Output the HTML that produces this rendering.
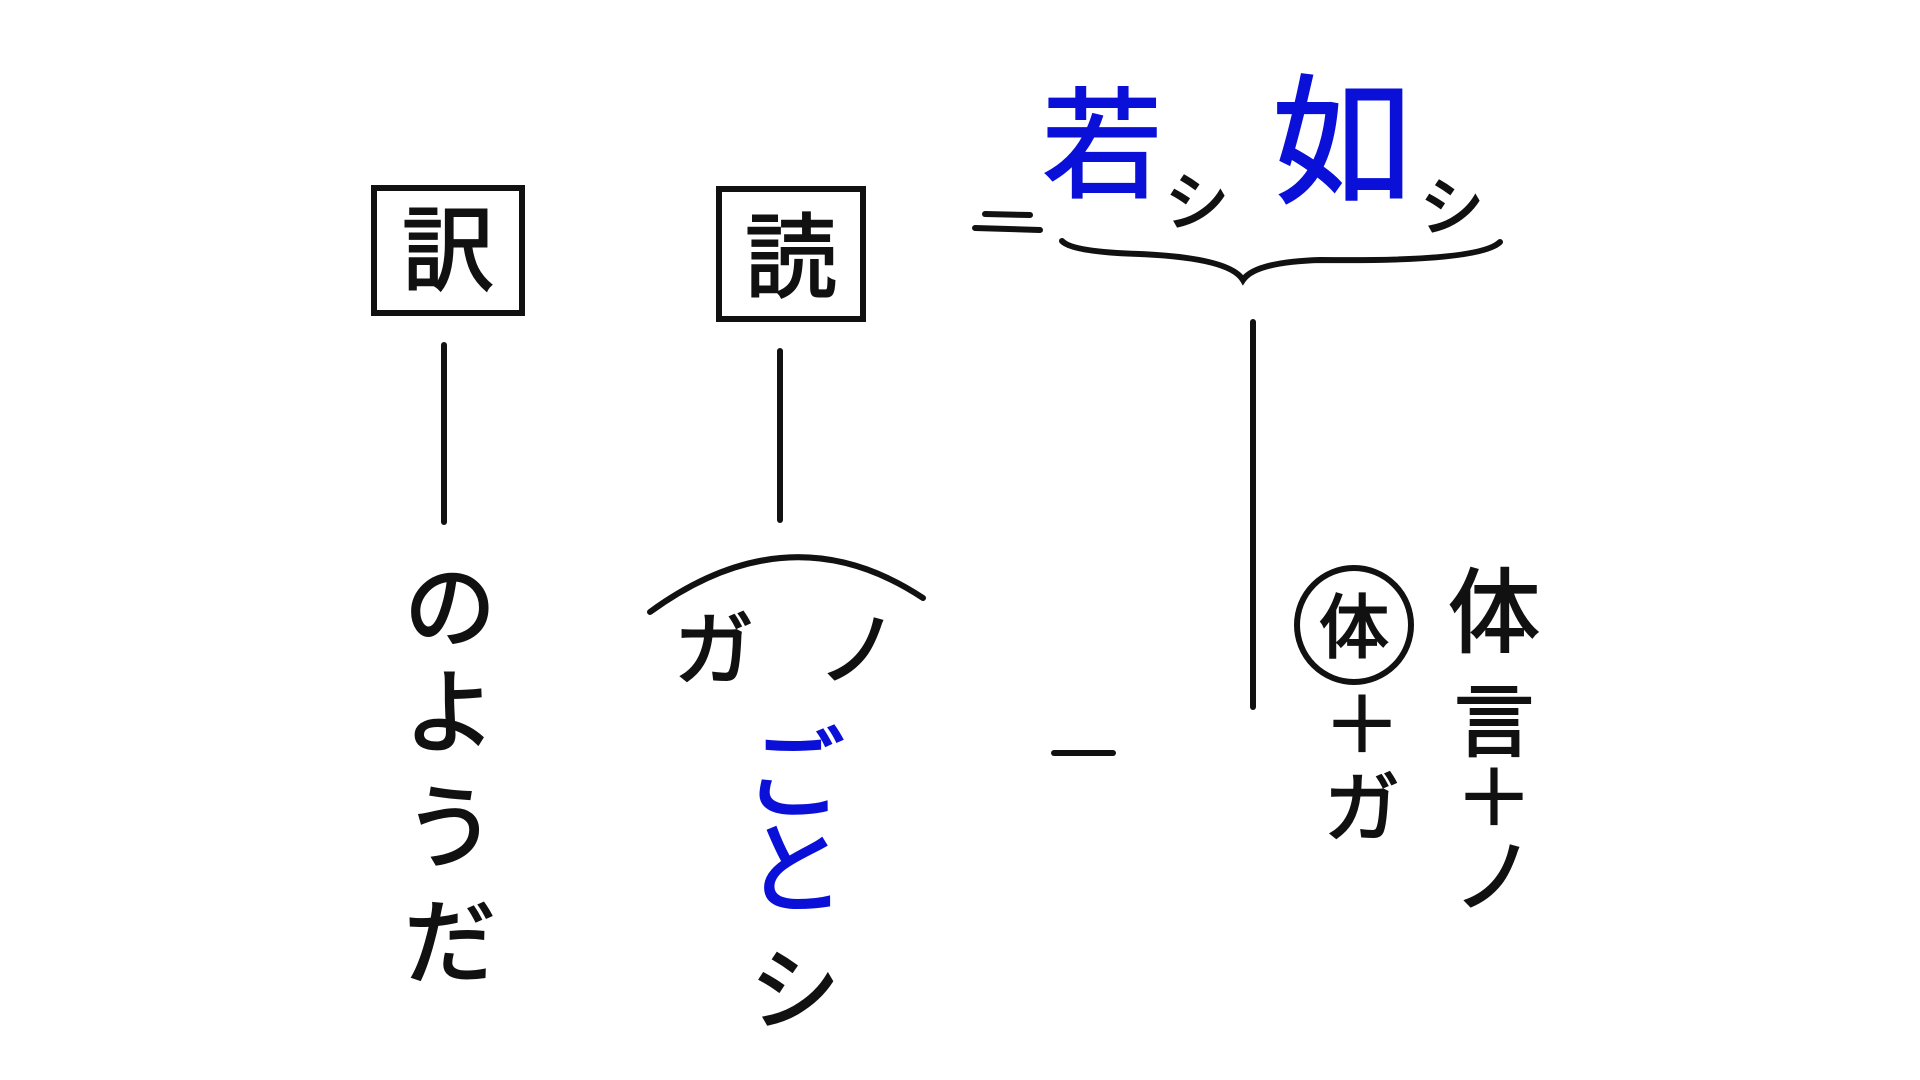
<!DOCTYPE html>
<html><head><meta charset="utf-8"><style>
html,body{margin:0;padding:0;background:#fff;width:1920px;height:1080px;overflow:hidden}
svg text{font-family:"Liberation Sans","Noto Sans CJK JP",sans-serif}
</style></head><body>
<svg width="1920" height="1080" viewBox="0 0 1920 1080" xmlns="http://www.w3.org/2000/svg">
<g fill="none" stroke="#111" stroke-width="6" stroke-linecap="round">
<rect x="374" y="188" width="148" height="125"/>
<rect x="719" y="189" width="144" height="130"/>
<line x1="444" y1="345" x2="444" y2="522"/>
<line x1="780" y1="351" x2="780" y2="520"/>
<path d="M650 612 Q790 510 923 598"/>
<path d="M1062 241 Q1072 252 1140 254 Q1230 258 1243 280 Q1255 262 1320 260 Q1480 262 1500 242"/>
<line x1="1253" y1="322" x2="1253" y2="707"/>
<line x1="1054" y1="753" x2="1113" y2="753"/>
<line x1="975" y1="228" x2="1040" y2="230"/>
<line x1="985" y1="214" x2="1030" y2="215"/>
<circle cx="1354" cy="625" r="57"/>
</g>
<g fill="#111" stroke="#111" stroke-width="2" font-size="92" text-anchor="middle">
<text x="448" y="283">訳</text>
<text x="791" y="290">読</text>
<text x="1354" y="652" font-size="70">体</text>
<text x="450" y="640">の</text>
<text x="450" y="745">よ</text>
<text x="450" y="860">う</text>
<text x="450" y="975">だ</text>
<text x="714" y="678" font-size="80">ガ</text>
<text x="858" y="678" font-size="80">ノ</text>
<text x="795" y="1022" font-size="90">シ</text>
<text x="1197" y="225" font-size="64">シ</text>
<text x="1452" y="230" font-size="64">シ</text>
<text x="1362" y="752" font-size="76">＋</text>
<text x="1362" y="835" font-size="76">ガ</text>
<text x="1494" y="645" font-size="92">体</text>
<text x="1494" y="750" font-size="80">言</text>
<text x="1494" y="825" font-size="76">＋</text>
<text x="1494" y="905" font-size="80">ノ</text>
</g>
<g fill="#0a10d8" stroke="#0a10d8" stroke-width="2" text-anchor="middle">
<text x="1102" y="188" font-size="120">若</text>
<text x="1342" y="192" font-size="140">如</text>
<text x="795" y="810" font-size="100">ご</text>
<text x="795" y="905" font-size="100">と</text>
</g>
</svg>
</body></html>
